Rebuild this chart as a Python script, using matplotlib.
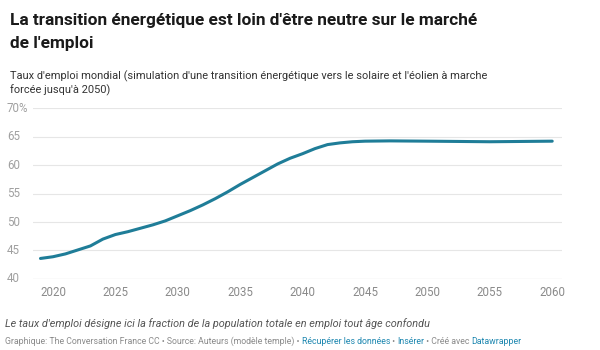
import matplotlib
matplotlib.use("Agg")
import matplotlib.pyplot as plt
import matplotlib.transforms as mtransforms

years = [2019, 2020, 2021, 2022, 2023, 2024, 2025, 2026, 2027, 2028, 2029, 2030,
         2031, 2032, 2033, 2034, 2035, 2036, 2037, 2038, 2039, 2040,
         2041, 2042, 2043, 2044, 2045, 2047, 2050, 2055, 2060]
taux = [43.6, 43.9, 44.4, 45.1, 45.8, 47.0, 47.8, 48.3, 48.9, 49.5, 50.2, 51.1,
        52.0, 53.0, 54.1, 55.3, 56.6, 57.8, 59.0, 60.2, 61.2, 62.0,
        62.9, 63.6, 63.9, 64.1, 64.2, 64.25, 64.2, 64.1, 64.2]
y_ticks = [40, 45, 50, 55, 60, 65, 70]
x_ticks = [2020, 2025, 2030, 2035, 2040, 2045, 2050, 2055, 2060]

plt.rcParams['font.family'] = ['Roboto', 'DejaVu Sans']

fig = plt.figure(figsize=(6, 3.5), dpi=100)
ax = fig.add_axes([0.055, 0.203, 0.882, 0.488])

line_color = "#1f7d98"
ax.plot(years, taux, color=line_color, lw=2.2, solid_capstyle="round")

ax.set_xlim(2018.4, 2060.8)
ax.set_ylim(40, 70)
ax.set_yticks(y_ticks)
ax.set_xticks(x_ticks)
ax.set_yticklabels([])
ax.grid(axis="y", color="#e6e6e6", lw=0.8)
ax.set_axisbelow(True)
for s in ax.spines.values():
    s.set_visible(False)
ax.tick_params(axis="both", length=0)
ax.tick_params(axis="x", labelsize=8.3, colors="#8a8a8a", pad=5)
ax.axhline(40, color="#cfcfcf", lw=0.8)

# y labels, left aligned against the figure edge
ylab_tr = mtransforms.blended_transform_factory(fig.transFigure, ax.transData)
for v in y_ticks:
    lab = f"{v}%" if v == 70 else str(v)
    ax.text(7 / 600, v, lab, transform=ylab_tr, fontsize=8.3,
            color="#a0a0a0", ha="left", va="center")

fig.text(10 / 600, 1 - 25 / 350, "La transition énergétique est loin d'être neutre sur le marché",
         fontsize=12.4, fontweight="bold", color="#1a1a1a")
fig.text(10 / 600, 1 - 48 / 350, "de l'emploi", fontsize=12.4, fontweight="bold", color="#1a1a1a")
fig.text(10 / 600, 1 - 79 / 350,
         "Taux d'emploi mondial (simulation d'une transition énergétique vers le solaire et l'éolien à marche",
         fontsize=7.9, color="#333333")
fig.text(10 / 600, 1 - 93 / 350, "forcée jusqu'à 2050)", fontsize=7.9, color="#333333")

fig.text(5 / 600, 1 - 327 / 350,
         "Le taux d'emploi désigne ici la fraction de la population totale en emploi tout âge confondu",
         fontsize=7.8, style="italic", color="#555555")

parts = [("Graphique: The Conversation France CC • Source: Auteurs (modèle temple) • ", "#8a8a8a"),
         ("Récupérer les données", "#1d87b0"),
         (" • ", "#8a8a8a"),
         ("Insérer", "#1d87b0"),
         (" • Créé avec ", "#8a8a8a"),
         ("Datawrapper", "#1d87b0")]
renderer = fig.canvas.get_renderer()
x = 5 / 600
for txt, col in parts:
    t = fig.text(x, 1 - 344 / 350, txt, fontsize=6.3, color=col)
    bb = t.get_window_extent(renderer=renderer)
    x += bb.width / fig.bbox.width

fig.savefig("out.png", dpi=100)
